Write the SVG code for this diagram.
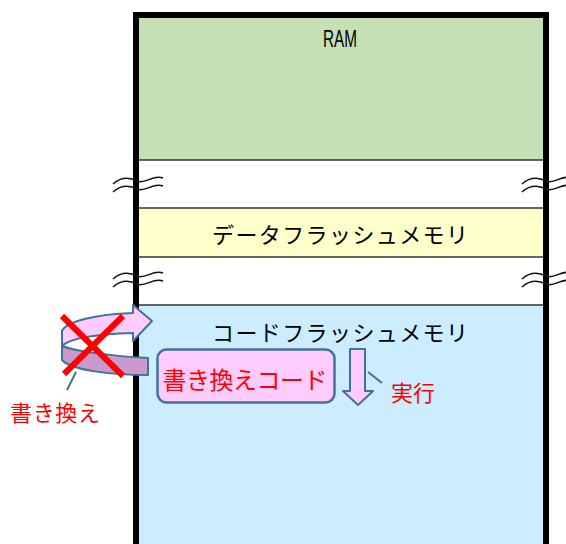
<svg xmlns="http://www.w3.org/2000/svg" width="566" height="544" viewBox="0 0 566 544">
<style>
.div{stroke:#333;stroke-width:1.5;fill:none}
.brk{stroke:#111;stroke-width:1.5;fill:none}
.jp{font-family:"Noto Sans CJK JP","Noto Sans",sans-serif}
.lbl{font-size:22px;fill:#000;text-anchor:middle}
.red{fill:#FF0000}
.ol{stroke:#41719C;stroke-width:2;stroke-linejoin:round}
</style>
<defs>
<path id="brk" d="M113,184 C121,177 129,177 137,181 C145,185 153,174 163,178 M113,192 C121,185 129,185 137,189 C145,193 153,182 163,186"/>
</defs>
<rect width="566" height="544" fill="#fff"/>
<g id="ram">
<rect x="136" y="15" width="410" height="145" fill="#C5E0B4"/>
<text x="340" y="47" font-family="Liberation Sans, Arial, sans-serif" font-size="23" textLength="34" lengthAdjust="spacingAndGlyphs" text-anchor="middle" fill="#000">RAM</text>
</g>
<g id="gap1"><rect x="136" y="160" width="410" height="48" fill="#fff"/></g>
<g id="data-flash">
<rect x="136" y="208" width="410" height="49" fill="#FFFFCC"/>
<text class="jp lbl" x="340" y="243" textLength="256" lengthAdjust="spacing">データフラッシュメモリ</text>
</g>
<g id="gap2"><rect x="136" y="257" width="410" height="48" fill="#fff"/></g>
<g id="code-flash">
<rect x="136" y="305" width="410" height="245" fill="#CCECFF"/>
<text class="jp lbl" x="340" y="341" textLength="256" lengthAdjust="spacing">コードフラッシュメモリ</text>
</g>
<g id="dividers">
<line class="div" x1="139" y1="160" x2="543" y2="160"/>
<line class="div" x1="139" y1="208" x2="543" y2="208"/>
<line class="div" x1="139" y1="257" x2="543" y2="257"/>
<line class="div" x1="139" y1="305" x2="543" y2="305"/>
</g>
<g id="frame">
<path d="M136,550 V15 H546 V550" fill="none" stroke="#000" stroke-width="6"/>
</g>
<g id="breaks" class="brk">
<use href="#brk"/>
<use href="#brk" transform="translate(409,0)"/>
<use href="#brk" transform="translate(0,95)"/>
<use href="#brk" transform="translate(409,95)"/>
</g>
<g id="rewrite-code">
<rect x="157.5" y="349.5" width="177" height="53" rx="9" fill="#FFCCFF" stroke="#41719C" stroke-width="2.5"/>
<text class="jp red" x="245" y="389" font-size="24" text-anchor="middle" textLength="165" lengthAdjust="spacing">書き換えコード</text>
</g>
<g id="connectors">
<path class="ol" d="M62,346 C75,351 110,356 148,358 L148,375 C115,375 72,371 62,360 Z" fill="#CC99CC"/>
<path class="ol" d="M133,305 L152,321 L133,341 L133,333 C100,334 70,338 62,346 L62,331 C66,322 95,314 133,313 Z" fill="#FFCCFF"/>
<path class="ol" d="M350,349 H365 V391 H373 L358,405 L343,391 H350 Z" fill="#FFCCFF"/>
<line x1="368" y1="372" x2="382" y2="383" stroke="#41719C" stroke-width="2"/>
<line x1="76" y1="372" x2="67" y2="390" stroke="#41719C" stroke-width="2"/>
</g>
<g id="cross" stroke="#FF0000" stroke-width="6" stroke-linecap="butt">
<line x1="62" y1="316" x2="123" y2="376"/>
<line x1="123" y1="316" x2="64" y2="374"/>
</g>
<g id="labels">
<text class="jp red" x="413" y="401" font-size="22" text-anchor="middle">実行</text>
<text class="jp red" x="55" y="421" font-size="22" text-anchor="middle" textLength="90" lengthAdjust="spacing">書き換え</text>
</g>
</svg>
